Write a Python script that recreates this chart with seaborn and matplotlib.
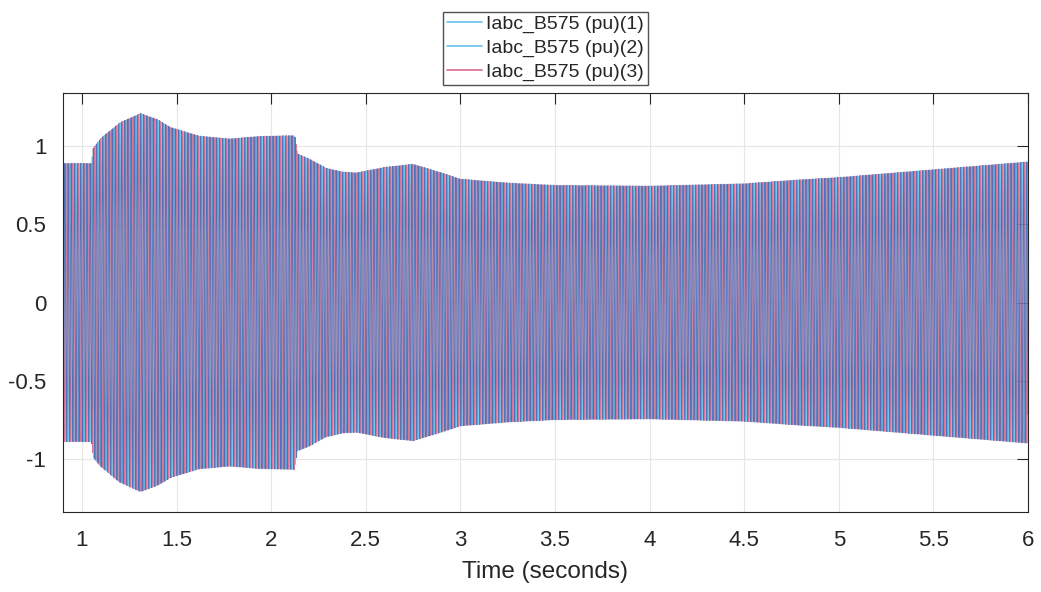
import numpy as np
import pandas as pd
import matplotlib
matplotlib.use('Agg')
import matplotlib.pyplot as plt
import seaborn as sns

# peak envelope of the phase currents (time s, amplitude pu)
env_time = [0.90, 1.00, 1.050, 1.060, 1.10, 1.20, 1.31, 1.40, 1.47, 1.62, 1.78, 1.94,
            2.125, 2.140, 2.20, 2.29, 2.38, 2.45, 2.60, 2.75, 2.90, 3.00, 3.25, 3.50,
            4.00, 4.50, 4.79, 5.00, 5.50, 6.00]
env_amp = [0.89, 0.89, 0.89, 0.99, 1.05, 1.15, 1.21, 1.17, 1.12, 1.065, 1.047, 1.063,
           1.068, 0.95, 0.92, 0.86, 0.835, 0.83, 0.865, 0.885, 0.83, 0.79, 0.765, 0.75,
           0.745, 0.76, 0.785, 0.80, 0.85, 0.90]
freq_hz = 60.0
phase_shift_deg = [0, -120, 120]
series_names = ['Iabc_B575 (pu)(1)', 'Iabc_B575 (pu)(2)', 'Iabc_B575 (pu)(3)']
colors = ['#62c4ee', '#4565b0', '#d8698a']

t = np.arange(0.9, 6.0, 1 / 3000)
env = np.interp(t, env_time, env_amp)

sns.set_style('white')
plt.rcParams['font.family'] = ['Liberation Sans', 'DejaVu Sans']

fig = plt.figure(figsize=(10.41, 5.92), dpi=100)
ax = fig.add_axes([0.0605, 0.135, 0.927, 0.708])

# draw order: phase 1, phase 3, phase 2 (darker blue on top)
for i in [0, 2, 1]:
    d = pd.DataFrame({'time': t,
                      'value': env * np.sin(2 * np.pi * freq_hz * t + np.deg2rad(phase_shift_deg[i]))})
    sns.lineplot(data=d, x='time', y='value', color=colors[i], estimator=None, sort=False,
                 linewidth=0.6, alpha=0.9, ax=ax)

ax.set_xlim(0.9, 6.0)
ax.set_ylim(-1.34, 1.34)
ax.set_xticks([1, 1.5, 2, 2.5, 3, 3.5, 4, 4.5, 5, 5.5, 6])
ax.set_xticklabels(['1', '1.5', '2', '2.5', '3', '3.5', '4', '4.5', '5', '5.5', '6'])
ax.set_yticks([-1, -0.5, 0, 0.5, 1])
ax.set_yticklabels(['-1', '-0.5', '0', '0.5', '1'])
ax.grid(True, color='#e6e6e6', linewidth=0.8)
ax.set_axisbelow(True)
ax.tick_params(direction='in', length=8, width=0.8, colors='#262626', labelsize=16,
               top=True, right=True)
ax.tick_params(axis='x', pad=13)
ax.tick_params(axis='y', pad=12)
for s in ax.spines.values():
    s.set_color('#262626')
    s.set_linewidth(0.8)
ax.set_xlabel('Time (seconds)', fontsize=17.5, color='#262626', labelpad=7)
ax.set_ylabel('')

handles = [plt.Line2D([], [], color=c, linewidth=1.2) for c in ['#62c4ee', '#62c4ee', '#d8698a']]
ax.legend(handles, series_names, loc='lower center', bbox_to_anchor=(0.5, 1.02),
          fontsize=14, frameon=True, fancybox=False, edgecolor='#262626',
          handlelength=1.8, handletextpad=0.2, borderpad=0.2, labelspacing=0.3,
          borderaxespad=0)

fig.savefig('out.png', dpi=100)
